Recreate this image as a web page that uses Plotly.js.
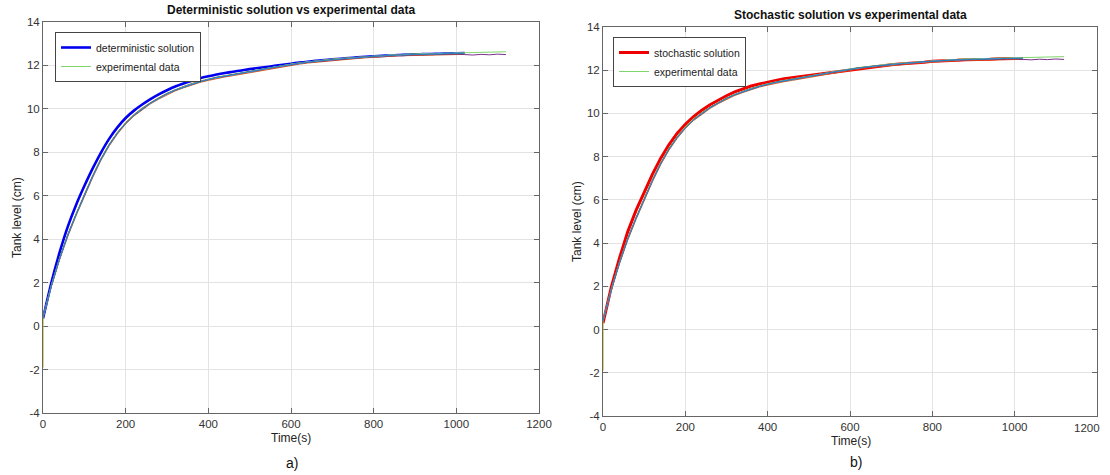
<!DOCTYPE html>
<html><head><meta charset="utf-8">
<script src="https://cdn.plot.ly/plotly-3.0.1.min.js"></script>
<style>html,body{margin:0;padding:0;background:#fff;overflow:hidden}#chart{width:1110px;height:475px}</style>
</head><body><div id="chart"></div>
<script>
// ---------- data ----------
const time = [0,20,40,60,80,100,120,140,160,180,200,220,240,260,280,300,320,340,360,380,400,420,440,460,480,500,520,540,560,580,600,620,640,660,680,700,720,740,760,780,800,820,840,860,880,900,920,940,960,980,1000,1020];
const extTime = [1040,1060,1080,1100,1120];

const deterministic = [0.35,1.98,3.38,4.58,5.58,6.45,7.25,7.98,8.62,9.15,9.58,9.92,10.20,10.45,10.67,10.86,11.03,11.17,11.30,11.41,11.50,11.58,11.65,11.71,11.77,11.83,11.88,11.93,11.98,12.03,12.08,12.13,12.17,12.21,12.25,12.28,12.31,12.34,12.37,12.40,12.42,12.44,12.46,12.48,12.50,12.51,12.52,12.53,12.54,12.55,12.56,12.57];
const stochastic = [0.30,1.95,3.30,4.52,5.50,6.38,7.18,7.92,8.55,9.08,9.50,9.85,10.15,10.40,10.62,10.82,11.00,11.13,11.27,11.36,11.46,11.53,11.61,11.66,11.73,11.77,11.83,11.87,11.93,11.97,12.03,12.07,12.13,12.17,12.22,12.25,12.29,12.31,12.35,12.37,12.41,12.42,12.46,12.46,12.49,12.49,12.51,12.51,12.53,12.53,12.55,12.54];

const exp1 = [0.40,1.83,3.08,4.18,5.13,6.03,6.88,7.66,8.33,8.88,9.33,9.70,10.00,10.26,10.48,10.69,10.86,11.00,11.14,11.25,11.35,11.45,11.50,11.58,11.63,11.72,11.77,11.86,11.91,11.99,12.03,12.11,12.14,12.20,12.22,12.28,12.29,12.34,12.35,12.40,12.41,12.45,12.45,12.49,12.48,12.51,12.50,12.53,12.52,12.55,12.54,12.56];
const exp2 = [0.38,1.80,3.04,4.13,5.08,5.98,6.83,7.62,8.29,8.84,9.30,9.67,9.97,10.23,10.45,10.65,10.83,10.97,11.11,11.22,11.31,11.40,11.47,11.53,11.60,11.67,11.74,11.81,11.88,11.94,12.00,12.06,12.11,12.15,12.19,12.23,12.26,12.29,12.32,12.35,12.38,12.40,12.42,12.44,12.45,12.46,12.47,12.48,12.49,12.50,12.50,12.51];
const exp3 = [0.42,1.86,3.11,4.21,5.16,6.06,6.91,7.69,8.36,8.91,9.36,9.73,10.03,10.28,10.51,10.71,10.88,11.03,11.16,11.27,11.37,11.45,11.52,11.58,11.65,11.72,11.79,11.86,11.93,11.99,12.05,12.11,12.16,12.20,12.24,12.28,12.31,12.34,12.37,12.40,12.43,12.45,12.47,12.49,12.50,12.51,12.52,12.53,12.54,12.55,12.56,12.56];
const exp3Start = -1.9;
const exp4 = [0.40,1.85,3.09,4.19,5.14,6.04,6.89,7.67,8.34,8.89,9.34,9.71,10.01,10.27,10.49,10.70,10.86,11.02,11.14,11.26,11.35,11.44,11.50,11.57,11.63,11.70,11.77,11.84,11.91,11.97,12.03,12.09,12.14,12.18,12.22,12.26,12.29,12.32,12.35,12.38,12.41,12.43,12.45,12.47,12.48,12.49,12.50,12.51,12.52,12.53,12.53,12.50];
const exp4Ext = [12.48,12.51,12.49,12.52,12.50];
const exp5 = [0.41,1.87,3.12,4.22,5.17,6.07,6.92,7.70,8.37,8.92,9.37,9.74,10.04,10.29,10.52,10.72,10.89,11.04,11.17,11.28,11.38,11.46,11.53,11.60,11.66,11.73,11.80,11.87,11.94,12.00,12.06,12.12,12.17,12.21,12.25,12.29,12.32,12.35,12.38,12.41,12.44,12.46,12.48,12.50,12.52,12.53,12.54,12.56,12.57,12.58,12.59,12.61];
const exp5Ext = [12.62,12.61,12.63,12.62,12.63];
const exp6 = [0.39,1.84,3.09,4.19,5.14,6.04,6.89,7.67,8.34,8.89,9.34,9.71,10.01,10.26,10.49,10.69,10.87,11.01,11.15,11.25,11.36,11.43,11.52,11.56,11.65,11.70,11.79,11.84,11.93,11.97,12.05,12.09,12.16,12.18,12.24,12.25,12.31,12.32,12.37,12.38,12.43,12.43,12.48,12.47,12.51,12.50,12.53,12.52,12.55,12.54,12.57,12.55];
const exp7 = [0.40,1.84,3.10,4.20,5.15,6.05,6.90,7.68,8.35,8.90,9.35,9.72,10.02,10.27,10.50,10.70,10.87,11.02,11.15,11.26,11.36,11.44,11.51,11.57,11.64,11.71,11.78,11.85,11.92,11.98,12.04,12.10,12.15,12.19,12.23,12.27,12.30,12.33,12.36,12.39,12.42,12.44,12.46,12.48,12.49,12.50,12.51,12.52,12.53,12.54,12.55,12.55];

const xTicks = [0,200,400,600,800,1000,1200];
const xTickText = ['0','200','400','600','800','1000','1200'];
const xTickText2 = ['0','200','400','600','800','1000',''];
const lastXTickLabel = '1200';
const yTicks = [-4,-2,0,2,4,6,8,10,12,14];
const yTickText = ['-4','-2','0','2','4','6','8','10','12','14'];

// ---------- traces ----------
function expTraces(xa, ya, lg) {
  const common = {type:'scatter', mode:'lines', xaxis:xa, yaxis:ya, legend:lg, hoverinfo:'skip'};
  return [
    Object.assign({}, common, {name:'experimental data', x:time.concat(extTime), y:exp5.concat(exp5Ext), line:{color:'#7fd66a', width:1}, showlegend:true}),
    Object.assign({}, common, {x:time, y:exp2, line:{color:'#D95319', width:1}, showlegend:false}),
    Object.assign({}, common, {x:[0].concat(time), y:[exp3Start].concat(exp3), line:{color:'#C9B020', width:1.2}, showlegend:false}),
    Object.assign({}, common, {x:time.concat(extTime), y:exp4.concat(exp4Ext), line:{color:'#7E2F8E', width:1}, showlegend:false}),
    Object.assign({}, common, {x:time, y:exp7, line:{color:'#A2142F', width:1}, showlegend:false}),
    Object.assign({}, common, {x:time, y:exp6, line:{color:'#4DBEEE', width:1}, showlegend:false}),
    Object.assign({}, common, {x:time, y:exp1, line:{color:'#2a7fb8', width:1}, showlegend:false})
  ];
}

const traces = [
  {type:'scatter', mode:'lines', name:'deterministic solution', x:time, y:deterministic, xaxis:'x', yaxis:'y', legend:'legend', line:{color:'#0000f0', width:2.6, shape:'spline', smoothing:0.6}, hoverinfo:'skip'}
].concat(expTraces('x','y','legend'))
 .concat([{type:'scatter', mode:'lines', name:'stochastic solution', x:time, y:stochastic, xaxis:'x2', yaxis:'y2', legend:'legend2', line:{color:'#ee0000', width:3}, hoverinfo:'skip'}])
 .concat(expTraces('x2','y2','legend2'));

const W = 1110, H = 475;
const px = v => v / W, py = v => 1 - v / H;

const tickFont = {family:'Arial, "Liberation Sans", sans-serif', size:11.5, color:'#333'};
const axisBase = {
  showline:true, mirror:'ticks', linecolor:'#666', linewidth:1,
  ticks:'inside', ticklen:5, tickcolor:'#666', tickwidth:1,
  showgrid:true, gridcolor:'#e3e3e3', gridwidth:1, zeroline:false,
  tickfont:tickFont,
  ticklabeloverflow:'allow', layer:'below traces',
  fixedrange:true
};

const legendBase = {
  xref:'paper', yref:'paper', xanchor:'left', yanchor:'top',
  bgcolor:'#fff', bordercolor:'#444', borderwidth:1,
  font:{family:'Arial, "Liberation Sans", sans-serif', size:10.5, color:'#222'},
  tracegroupgap:0, itemwidth:30
};

const annFont = {family:'Arial, "Liberation Sans", sans-serif', size:12, color:'#222'};
const ann = (text, x, y, opts) => Object.assign({text, x:px(x), y:py(y), xref:'paper', yref:'paper', showarrow:false, xanchor:'center', yanchor:'middle', font:annFont}, opts||{});

const layout = {
  width:W, height:H, margin:{l:0, r:0, t:0, b:0},
  paper_bgcolor:'#fff', plot_bgcolor:'#fff',
  xaxis: Object.assign({}, axisBase, {domain:[px(43), px(539)], range:[0,1200], tickvals:xTicks, ticktext:xTickText, anchor:'y'}),
  yaxis: Object.assign({}, axisBase, {domain:[1-413/H, 1-22/H], range:[-4,14], tickvals:yTicks, ticktext:yTickText, anchor:'x'}),
  xaxis2: Object.assign({}, axisBase, {domain:[px(603), px(1097)], range:[0,1200], tickvals:xTicks, ticktext:xTickText2, anchor:'y2'}),
  yaxis2: Object.assign({}, axisBase, {domain:[1-416/H, 1-27/H], range:[-4,14], tickvals:yTicks, ticktext:yTickText, anchor:'x2'}),
  legend: Object.assign({}, legendBase, {x:px(55), y:py(32)}),
  legend2: Object.assign({}, legendBase, {x:px(613), y:py(37)}),
  annotations: [
    ann('<b>Deterministic solution vs experimental data</b>', 291, 10, {font:Object.assign({}, annFont, {size:12, color:'#111'})}),
    ann('<b>Stochastic solution vs experimental data</b>', 850, 15, {font:Object.assign({}, annFont, {size:12, color:'#111'})}),
    ann(lastXTickLabel, 1087, 428, {font:tickFont}),
    ann('Time(s)', 291, 438),
    ann('Time(s)', 851, 441),
    ann('Tank level (cm)', 17, 218, {textangle:-90}),
    ann('Tank level (cm)', 577, 222, {textangle:-90}),
    ann('a)', 292, 463, {font:Object.assign({}, annFont, {size:14, color:'#111'})}),
    ann('b)', 856, 462, {font:Object.assign({}, annFont, {size:14, color:'#111'})})
  ]
};

Plotly.newPlot('chart', traces, layout, {staticPlot:true, displayModeBar:false});
</script>
</body></html>
